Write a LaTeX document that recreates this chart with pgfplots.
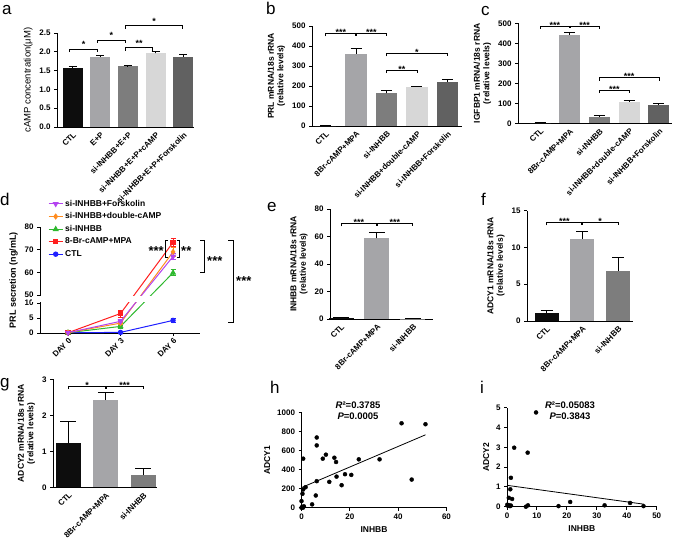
\documentclass[border=0pt]{standalone}
\usepackage{fontspec}
\setmainfont{Liberation Sans}
\usepackage{pgfplots}
\pgfplotsset{compat=1.18}

\definecolor{barBlack}{HTML}{0D0D0D}
\definecolor{gLight}{HTML}{A5A5A8}
\definecolor{gMid}{HTML}{7D7D7D}
\definecolor{gPale}{HTML}{D7D7D7}
\definecolor{gDark}{HTML}{616161}
\definecolor{dPurple}{HTML}{B444F0}
\definecolor{dOrange}{HTML}{FF8C1F}
\definecolor{dGreen}{HTML}{2EB82E}
\definecolor{dRed}{HTML}{FF1F1F}
\definecolor{dBlue}{HTML}{2020FF}

\newcommand{\tkfont}{\fontsize{8}{8.5}\selectfont\bfseries}
\newcommand{\lbfont}{\fontsize{8.5}{9.5}\selectfont\bfseries}
\newcommand{\sgfont}{\fontsize{9}{9}\selectfont\bfseries}
\newcommand{\dsgfont}{\fontsize{13}{13}\selectfont\bfseries}
\newcommand{\pfont}{\fontsize{17}{17}\selectfont}

% bracket: x1, x2, xmid, y, text, text yshift
\newcommand{\brk}[6]{%
 \draw[line width=0.8pt] ([yshift=-3pt]axis cs:#1,#4) -- (axis cs:#1,#4) -- (axis cs:#2,#4) -- ([yshift=-3pt]axis cs:#2,#4);
 \node[font=\sgfont, anchor=base, inner sep=0pt] at ([yshift=#6]axis cs:#3,#4) {#5};}
% triple bracket over 0,1,2: y, text1, text2, shift
\newcommand{\brkt}[4]{%
 \draw[line width=0.8pt] ([yshift=-3pt]axis cs:0,#1) -- (axis cs:0,#1) -- (axis cs:2,#1) -- ([yshift=-3pt]axis cs:2,#1);
 \draw[line width=1.8pt] (axis cs:1,#1) -- ([yshift=-2.5pt]axis cs:1,#1);
 \node[font=\sgfont, anchor=base, inner sep=0pt] at ([yshift=#4]axis cs:0.5,#1) {#2};
 \node[font=\sgfont, anchor=base, inner sep=0pt] at ([yshift=#4]axis cs:1.5,#1) {#3};}

\pgfplotsset{
  gp/.style={scale only axis, anchor=south west, clip=false,
    axis x line*=bottom, axis y line*=left,
    axis line style={line width=0.9pt,-},
    every tick/.style={black, line width=0.9pt},
    tick align=outside, major tick length=3pt,
    /pgf/number format/assume math mode=true,
    /pgf/number format/1000 sep={},
    ticklabel style={font=\tkfont},
    label style={font=\lbfont},
    ylabel style={align=center}},
  gpbar/.style={gp, xtick style={draw=none}, ymin=0,
    xticklabel style={rotate=45, anchor=north east, inner sep=1pt}},
  gbar/.style={ybar, bar width=#1, draw=none},
  eb/.style={error bars/y dir=plus, error bars/y explicit,
    error bars/error bar style={line width=0.9pt, black},
    error bars/error mark options={rotate=90, mark size=#1, line width=0.9pt, black}},
  ebd/.style={error bars/y dir=both, error bars/y explicit,
    error bars/error bar style={line width=0.8pt},
    error bars/error mark options={rotate=90, mark size=2.5pt, line width=0.8pt}},
}

\begin{document}
\begin{tikzpicture}
\useasboundingbox (0,0) rectangle (676pt,-543pt);

% ---------------- a ----------------
\begin{axis}[gpbar, at={(57pt,-127pt)}, width=137pt, height=94pt,
  xmin=-0.567, xmax=4.39, ymax=2.5,
  ytick={0,0.5,1,1.5,2,2.5},
  yticklabel style={/pgf/number format/fixed, /pgf/number format/fixed zerofill, /pgf/number format/precision=1},
  xtick={0,1,2,3,4},
  xticklabels={CTL,E+P,si-INHBB+E+P,si-INHBB+E+P+cAMP,si-INHBB+E+P+Forskolin},
  ylabel={cAMP concentration(μM)}, ylabel style={font=\fontsize{9.5}{10}\selectfont}]
\addplot[gbar=20pt, fill=barBlack, eb=4pt] coordinates {(0,1.58) +- (0,0.04)};
\addplot[gbar=20pt, fill=gLight, eb=4pt] coordinates {(1,1.86) +- (0,0.05)};
\addplot[gbar=20pt, fill=gMid, eb=4pt] coordinates {(2,1.61) +- (0,0.02)};
\addplot[gbar=20pt, fill=gPale, eb=4pt] coordinates {(3,1.96) +- (0,0.05)};
\addplot[gbar=20pt, fill=gDark, eb=4pt] coordinates {(4,1.87) +- (0,0.06)};
\brk{-0.13}{0.9}{0.4}{2.07}{*}{1.4pt}
\brk{0.9}{1.9}{1.4}{2.31}{*}{1.4pt}
\brk{1.9}{2.9}{2.4}{2.11}{**}{1.4pt}
\brk{1.9}{3.98}{2.95}{2.69}{*}{1.4pt}
\end{axis}

% ---------------- b ----------------
\begin{axis}[gpbar, at={(312pt,-126pt)}, width=150pt, height=100pt,
  xmin=-0.45, xmax=4.48, ymax=500,
  ytick={0,100,200,300,400,500},
  xtick={0,1,2,3,4},
  xticklabels={CTL,8Br-cAMP+MPA,si-INHBB,si-INHBB+double-cAMP,si-INHBB+Forskolin},
  ylabel={PRL mRNA/18s rRNA\\(relative levels)}]
\addplot[gbar=21.5pt, fill=barBlack, eb=5.5pt] coordinates {(0,1) +- (0,0)};
\addplot[gbar=21.5pt, fill=gLight, eb=5.5pt] coordinates {(1,362) +- (0,26)};
\addplot[gbar=21.5pt, fill=gMid, eb=5.5pt] coordinates {(2,163) +- (0,13)};
\addplot[gbar=21.5pt, fill=gPale, eb=5.5pt] coordinates {(3,197) +- (0,3)};
\addplot[gbar=21.5pt, fill=gDark, eb=5.5pt] coordinates {(4,220) +- (0,14)};
\brkt{463}{***}{***}{-2.1pt}
\brk{2}{4}{3}{363}{*}{-2.1pt}
\brk{2}{3}{2.5}{280}{**}{-2.1pt}
\end{axis}

% ---------------- c ----------------
\begin{axis}[gpbar, at={(518pt,-123.3pt)}, width=154pt, height=100pt,
  xmin=-0.74, xmax=4.44, ymax=500,
  ytick={0,100,200,300,400,500},
  xtick={0,1,2,3,4},
  xticklabels={CTL,8Br-cAMP+MPA,si-INHBB,si-INHBB+double-cAMP,si-INHBB+Forskolin},
  ylabel={IGFBP1 mRNA/18s rRNA\\(relative levels)}]
\addplot[gbar=21pt, fill=barBlack, eb=5.5pt] coordinates {(0,3) +- (0,0)};
\addplot[gbar=21pt, fill=gLight, eb=5.5pt] coordinates {(1,442) +- (0,14)};
\addplot[gbar=21pt, fill=gMid, eb=5.5pt] coordinates {(2,33) +- (0,5)};
\addplot[gbar=21pt, fill=gPale, eb=5.5pt] coordinates {(3,109) +- (0,4)};
\addplot[gbar=21pt, fill=gDark, eb=5.5pt] coordinates {(4,93) +- (0,7)};
\brkt{487}{***}{***}{-2.1pt}
\brk{2}{4}{3}{228}{***}{-2.1pt}
\brk{2}{3}{2.5}{166}{***}{-2.1pt}
\end{axis}

% ---------------- d ----------------
\begin{axis}[gp, at={(40pt,-333pt)}, width=160pt, height=106pt,
  xmin=-1.6, xmax=7.54, ymin=0, ymax=80,
  y coord trafo/.code={\pgfmathparse{(#1<=10)?(#1):(12.67+((#1)-50)*0.756)}},
  ytick={0,5,10,50,60,70,80}, yticklabels={0,5,10,50,60,70,80},
  xtick={0,3,6}, xticklabels={DAY 0,DAY 3,DAY 6},
  xticklabel style={rotate=45, anchor=north east, inner sep=1pt},
  ylabel={PRL secretion (ng/mL)}, ylabel style={font=\fontsize{9}{10}\selectfont\bfseries},
  legend style={at={(rel axis cs:0.05,1.275)}, anchor=north west, draw=none, fill=none,
    font=\fontsize{8.5}{9}\selectfont\bfseries, row sep=1pt, inner sep=0pt},
  legend cell align=left, reverse legend,
  legend image code/.code={\draw[mark repeat=2,mark phase=2,#1] plot coordinates {(0pt,0pt) (7pt,0pt) (14pt,0pt)};}]
\addplot[dBlue, line width=1pt, mark=*, mark size=2.2pt, ebd] coordinates {(0,0.1) +- (0,0) (3,0.2) +- (0,0.2) (6,4.2) +- (0,0.8)};
\addlegendentry{CTL}
\addplot[dRed, line width=1pt, mark=square*, mark size=2.2pt, ebd] coordinates {(0,0.1) +- (0,0) (3,6.5) +- (0,1.2) (6,73.2) +- (0,1.3)};
\addlegendentry{8-Br-cAMP+MPA}
\addplot[dGreen, line width=1pt, mark=triangle*, mark size=2.6pt, ebd] coordinates {(0,0.1) +- (0,0) (3,2.2) +- (0,0.5) (6,59.8) +- (0,1.0)};
\addlegendentry{si-INHBB}
\addplot[dOrange, line width=1pt, mark=diamond*, mark size=2.4pt, ebd] coordinates {(0,0.1) +- (0,0) (3,3.3) +- (0,0.5) (6,69) +- (0,1.5)};
\addlegendentry{si-INHBB+double-cAMP}
\addplot[dPurple, line width=1pt, mark=triangle*, mark size=2.6pt, mark options={rotate=180}, ebd] coordinates {(0,0.1) +- (0,0) (3,3.9) +- (0,0.5) (6,67) +- (0,1.0)};
\addlegendentry{si-INHBB+Forskolin}
\fill[white] (rel axis cs:-0.05,0.291) rectangle (rel axis cs:0.9,0.351);
\end{axis}

% ---------------- e ----------------
\begin{axis}[gpbar, at={(330pt,-319pt)}, width=103pt, height=110pt,
  xmin=-0.306, xmax=2.56, ymax=80,
  ytick={0,20,40,60,80},
  xtick={0,1,2}, xticklabels={CTL,8Br-cAMP+MPA,si-INHBB},
  ylabel={INHBB mRNA/18s rRNA\\(relative levels)}]
\addplot[gbar=25pt, fill=barBlack, eb=8pt] coordinates {(0,0.8) +- (0,0.3)};
\addplot[gbar=25pt, fill=gLight, eb=8pt] coordinates {(1,58.7) +- (0,4.1)};
\addplot[gbar=25pt, fill=gMid, eb=8pt] coordinates {(2,0.3) +- (0,0.1)};
\brkt{69.6}{***}{***}{-2.1pt}
\end{axis}

% ---------------- f ----------------
\begin{axis}[gpbar, at={(527pt,-321pt)}, width=106pt, height=110.3pt,
  xmin=-0.55, xmax=2.42, ymax=15,
  ytick={0,5,10,15},
  xtick={0,1,2}, xticklabels={CTL,8Br-cAMP+MPA,si-INHBB},
  ylabel={ADCY1 mRNA/18s rRNA\\(relative levels)}]
\addplot[gbar=24pt, fill=barBlack, eb=6pt] coordinates {(0,1.13) +- (0,0.27)};
\addplot[gbar=24pt, fill=gLight, eb=6pt] coordinates {(1,11.2) +- (0,0.95)};
\addplot[gbar=24pt, fill=gMid, eb=6pt] coordinates {(2,6.85) +- (0,1.75)};
\brkt{13.4}{***}{*}{-2.1pt}
\end{axis}

% ---------------- g ----------------
\begin{axis}[gpbar, at={(53pt,-487.3pt)}, width=104pt, height=108pt,
  xmin=-0.415, xmax=2.37, ymax=3,
  ytick={0,1,2,3},
  xtick={0,1,2}, xticklabels={CTL,8Br-cAMP+MPA,si-INHBB},
  ylabel={ADCY2 mRNA/18s rRNA\\(relative levels)}]
\addplot[gbar=25pt, fill=barBlack, eb=8pt] coordinates {(0,1.22) +- (0,0.6)};
\addplot[gbar=25pt, fill=gLight, eb=8pt] coordinates {(1,2.42) +- (0,0.22)};
\addplot[gbar=25pt, fill=gMid, eb=8pt] coordinates {(2,0.34) +- (0,0.17)};
\brkt{2.81}{*}{***}{-2.1pt}
\end{axis}

% ---------------- h ----------------
\begin{axis}[gp, at={(301.5pt,-507.7pt)}, width=145pt, height=95.4pt,
  xmin=0, xmax=60, ymin=0, ymax=1000,
  xtick={0,20,40,60}, ytick={0,200,400,600,800,1000},
  xlabel={INHBB}, ylabel={ADCY1}]
\addplot[only marks, mark=*, mark size=2pt, black] coordinates {
(41.4,885) (51.3,875) (45.6,295) (6.3,736) (6.3,653) (0.7,514) (8.8,514)
(10.1,556) (13.6,524) (14.3,479) (23.7,507) (32.3,507) (14.5,326) (18,351)
(20.6,344) (11.5,271) (16.6,236) (6.3,278) (5.9,128) (4.4,35) (1.7,215)
(0.7,191) (0.4,146) (0,69) (0.3,10) (1,14) (0,0) (0.6,0)};
\addplot[black, line width=0.8pt] coordinates {(0,211) (51.3,764)};
\end{axis}

% ---------------- i ----------------
\begin{axis}[gp, at={(507pt,-506.7pt)}, width=149.7pt, height=99pt,
  xmin=0, xmax=50, ymin=0, ymax=5,
  xtick={0,10,20,30,40,50}, ytick={0,1,2,3,4,5},
  xlabel={INHBB}, ylabel={ADCY2}]
\addplot[only marks, mark=*, mark size=2pt, black] coordinates {
(9.7,4.76) (2.4,2.98) (6.9,2.73) (1.3,1.46) (1.1,0.88) (0.6,0.45) (1.7,0.39)
(0.3,0.05) (0.6,0.08) (1,0.03) (1.3,0.06) (6.3,0.0) (7,0.07) (17.2,0.03)
(21.1,0.24) (32.6,0.07) (41.1,0.19) (45.6,0.03) (0.1,0.1)};
\addplot[black, line width=0.8pt] coordinates {(0,1.08) (45.6,0.13)};
\end{axis}

% ---------- d significance ----------
\draw[line width=0.9pt] (168pt,-240pt) -- (165.7pt,-240pt) -- (165.7pt,-257.3pt) -- (168pt,-257.3pt);
\draw[line width=0.9pt] (176.7pt,-240pt) -- (179pt,-240pt) -- (179pt,-257.3pt) -- (176.7pt,-257.3pt);
\node[font=\dsgfont, anchor=base east, inner sep=0pt] at (164pt,-255.4pt) {***};
\node[font=\dsgfont, anchor=base west, inner sep=0pt] at (181pt,-255.4pt) {**};
\draw[line width=0.9pt] (200pt,-240.7pt) -- (204.5pt,-240.7pt) -- (204.5pt,-272.7pt) -- (200pt,-272.7pt);
\node[font=\dsgfont, anchor=base west, inner sep=0pt] at (207pt,-265.4pt) {***};
\draw[line width=0.9pt] (228pt,-240.7pt) -- (233pt,-240.7pt) -- (233pt,-322.7pt) -- (228pt,-322.7pt);
\node[font=\dsgfont, anchor=base west, inner sep=0pt] at (236pt,-285.4pt) {***};

% ---------- scatter stats ----------
\node[font=\fontsize{9.5}{10}\selectfont\bfseries] at (358pt,-405pt) {\textit{R}²=0.3785};
\node[font=\fontsize{9.5}{10}\selectfont\bfseries] at (358pt,-416.7pt) {\textit{P}=0.0005};
\node[font=\fontsize{9.5}{10}\selectfont\bfseries] at (570pt,-405pt) {\textit{R}²=0.05083};
\node[font=\fontsize{9.5}{10}\selectfont\bfseries] at (570pt,-416.7pt) {\textit{P}=0.3843};

% ---------- panel letters ----------
\node[font=\pfont, anchor=base west, inner sep=0pt] at (2pt,-15pt) {a};
\node[font=\pfont, anchor=base west, inner sep=0pt] at (266pt,-15pt) {b};
\node[font=\pfont, anchor=base west, inner sep=0pt] at (481pt,-16pt) {c};
\node[font=\pfont, anchor=base west, inner sep=0pt] at (0pt,-205pt) {d};
\node[font=\pfont, anchor=base west, inner sep=0pt] at (267pt,-211pt) {e};
\node[font=\pfont, anchor=base west, inner sep=0pt] at (481pt,-205pt) {f};
\node[font=\pfont, anchor=base west, inner sep=0pt] at (0pt,-387pt) {g};
\node[font=\pfont, anchor=base west, inner sep=0pt] at (270pt,-393pt) {h};
\node[font=\pfont, anchor=base west, inner sep=0pt] at (480pt,-393pt) {i};
\end{tikzpicture}
\end{document}
